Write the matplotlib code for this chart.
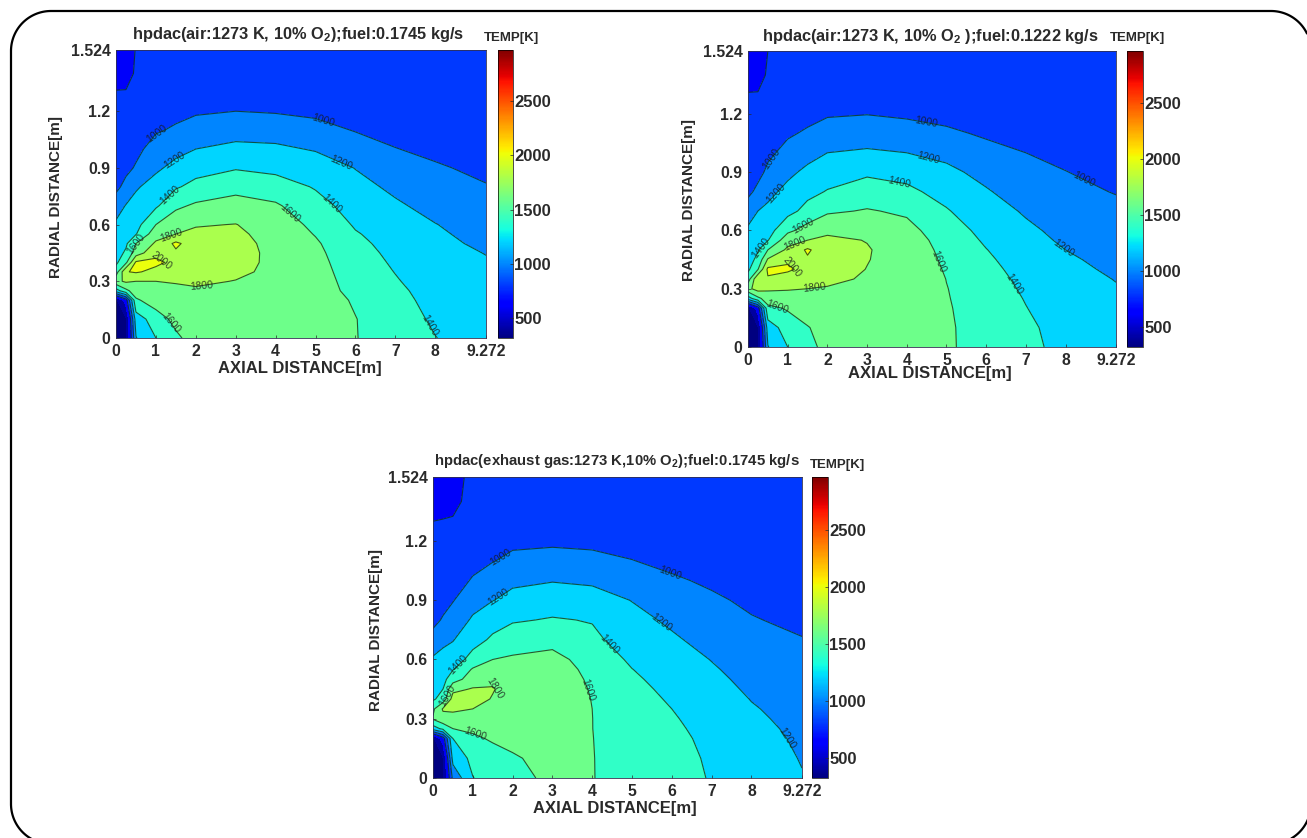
import numpy as np
import matplotlib
matplotlib.use("Agg")
import matplotlib.pyplot as plt
from matplotlib.lines import Line2D
from matplotlib.cm import ScalarMappable
from matplotlib.colors import Normalize
from matplotlib.transforms import IdentityTransform

plt.rcParams['font.family'] = ['Liberation Sans', 'DejaVu Sans']
plt.rcParams['mathtext.fontset'] = 'custom'
plt.rcParams['mathtext.rm'] = 'Liberation Sans:bold'
plt.rcParams['mathtext.default'] = 'rm'

W, H = 1307, 838

axial = [0, .25, .5, 1, 1.5, 2, 3, 4, 5, 6, 7, 8, 9.272]
radial = [0, .1, .2, .25, .3, .35, .4, .45, .5, .55, .6, .7, .8, .9, 1, 1.1, 1.2, 1.3, 1.4, 1.524]
levels = [200, 400, 600, 800, 1000, 1200, 1400, 1600, 1800, 2000, 2200, 2400, 2600, 2800, 3000]
line_levels = [800, 1000, 1200, 1400, 1600, 1800, 2000]
tmin, tmax = 320, 2970

xtick_vals = [0, 1, 2, 3, 4, 5, 6, 7, 8, 9.272]
xtick_text = ['0', '1', '2', '3', '4', '5', '6', '7', '8', '9.272']
ytick_vals = [0, .3, .6, .9, 1.2, 1.524]
ytick_text = ['0', '0.3', '0.6', '0.9', '1.2', '1.524']
cbar_ticks = [500, 1000, 1500, 2000, 2500]

# each row below is one axial station, values run along radial
temp_a = [
 [330,340,350,1300,1750,1500,1360,1320,1280,1260,1230,1110,950,900,860,830,810,805,760,740],
 [350,380,700,1550,1830,1990,1560,1430,1370,1330,1280,1210,1060,950,900,860,830,805,770,750],
 [1190,1300,1570,1700,1800,2020,2030,1700,1600,1390,1330,1260,1180,1020,950,900,860,830,810,805],
 [1400,1500,1700,1730,1800,1950,2040,1950,1830,1720,1600,1370,1270,1170,1080,980,915,865,830,815],
 [1560,1660,1720,1770,1810,1880,1950,1970,2040,1800,1730,1560,1380,1250,1150,1025,950,890,860,845],
 [1690,1700,1730,1780,1825,1860,1890,1920,1890,1840,1785,1630,1455,1330,1200,1090,975,905,875,860],
 [1660,1700,1750,1780,1795,1830,1850,1860,1855,1835,1805,1670,1545,1385,1245,1130,1000,920,885,870],
 [1700,1725,1745,1755,1760,1765,1765,1760,1750,1730,1705,1625,1490,1350,1235,1115,985,915,885,870],
 [1700,1700,1695,1690,1685,1675,1660,1645,1625,1590,1555,1470,1385,1300,1185,1065,960,905,880,865],
 [1605,1605,1580,1545,1525,1505,1490,1470,1445,1415,1380,1320,1255,1195,1095,990,930,895,875,860],
 [1530,1495,1460,1440,1415,1395,1375,1355,1335,1315,1290,1225,1165,1090,1005,945,905,880,865,855],
 [1405,1370,1340,1325,1310,1295,1280,1260,1240,1225,1205,1145,1085,1020,960,915,885,870,860,855],
 [1290,1280,1265,1255,1245,1230,1215,1195,1170,1145,1120,1060,1010,960,920,890,870,860,855,850],
]
temp_b = [
 [330,340,350,1300,1750,1500,1360,1320,1280,1260,1230,1110,950,900,860,830,810,805,760,740],
 [350,380,700,1550,1880,1990,1590,1450,1385,1330,1280,1200,1050,940,890,855,830,805,770,750],
 [1190,1300,1550,1700,1830,1980,2040,1820,1600,1390,1320,1240,1150,1040,960,905,865,835,810,800],
 [1400,1490,1620,1720,1815,1920,2030,1970,1840,1720,1555,1340,1250,1160,1060,975,915,865,830,810],
 [1560,1590,1690,1750,1800,1870,1940,1975,2030,1800,1680,1460,1350,1240,1140,1025,945,890,860,845],
 [1640,1670,1720,1760,1790,1830,1860,1880,1870,1830,1770,1570,1410,1320,1200,1090,980,905,870,855],
 [1630,1670,1720,1745,1770,1785,1797,1805,1810,1795,1760,1615,1490,1370,1225,1110,995,915,880,865],
 [1690,1710,1730,1745,1750,1755,1755,1745,1730,1700,1660,1570,1440,1340,1200,1085,970,900,870,860],
 [1620,1620,1615,1610,1605,1597,1580,1560,1540,1520,1490,1415,1335,1240,1155,1040,930,885,865,855],
 [1540,1535,1520,1510,1500,1480,1455,1430,1405,1375,1345,1280,1215,1150,1070,970,910,880,860,850],
 [1460,1440,1405,1390,1370,1350,1330,1310,1285,1255,1235,1180,1120,1060,1000,935,890,870,855,850],
 [1330,1320,1300,1285,1270,1255,1240,1220,1200,1175,1150,1105,1055,1005,945,900,870,855,850,845],
 [1265,1255,1235,1225,1210,1195,1175,1160,1140,1115,1095,1050,990,930,890,865,855,850,845,840],
]
temp_c = [
 [330,340,350,1300,1620,1560,1370,1330,1290,1260,1225,1080,940,880,850,825,810,800,760,740],
 [350,380,700,1450,1740,1820,1480,1400,1340,1310,1270,1150,1020,930,880,850,825,805,760,745],
 [1050,1270,1400,1600,1720,1840,1880,1750,1510,1390,1300,1190,1090,990,930,880,850,810,770,760],
 [1395,1450,1570,1630,1710,1800,1860,1815,1700,1620,1470,1330,1225,1130,1015,950,900,865,840,830],
 [1470,1530,1620,1680,1720,1760,1790,1810,1770,1690,1600,1430,1330,1195,1120,990,925,880,855,840],
 [1530,1580,1650,1680,1700,1720,1735,1730,1710,1670,1625,1510,1380,1255,1165,1050,955,895,865,850],
 [1650,1660,1680,1690,1700,1710,1720,1720,1710,1690,1660,1540,1415,1310,1190,1075,965,900,870,855],
 [1603,1603,1602,1601,1601,1600,1595,1585,1570,1550,1520,1440,1390,1280,1170,1060,950,895,870,855],
 [1560,1555,1545,1535,1525,1510,1485,1460,1430,1403,1370,1310,1255,1195,1105,1005,925,880,860,850],
 [1490,1480,1460,1440,1420,1400,1375,1350,1330,1305,1280,1225,1170,1110,1030,945,885,860,850,845],
 [1385,1370,1345,1330,1315,1300,1280,1260,1240,1218,1195,1140,1090,1035,965,900,865,850,845,840],
 [1330,1300,1270,1250,1230,1213,1195,1175,1155,1135,1115,1075,1015,960,910,870,850,845,840,835],
 [1210,1190,1170,1160,1150,1140,1125,1110,1095,1075,1060,1010,950,900,865,850,845,840,840,835],
]

title_a = r'hpdac(air:1273 K, 10% O$_2$);fuel:0.1745 kg/s'
title_b = r'hpdac(air:1273 K, 10% O$_2$ );fuel:0.1222 kg/s'
title_c = r'hpdac(exhaust gas:1273 K,10% O$_2$);fuel:0.1745 kg/s'

labels_a = [(5.2,1.155),(1.06,1.07),(1.52,.925),(5.65,.93),(1.48,.73),(5.5,.73),(4.36,.66),(1.44,.09),(7.9,.07),(1.4,.53),(2.15,.27),(.48,.5),(1.15,.42)]
labels_b = [(4.5,1.17),(.65,.96),(8.5,.88),(4.55,.98),(.77,.78),(8.03,.53),(3.8,.845),(6.85,.34),(.3,.515),(1.44,.61),(4.7,.43),(.73,.205),(1.2,.52),(1.7,.28),(1.1,.41)]
labels_c = [(1.69,1.12),(5.96,1.04),(1.73,.89),(5.7,.78),(8.9,.2),(.65,.57),(4.45,.68),(.35,.42),(3.75,.44),(1.06,.225),(1.57,.46)]

fig = plt.figure(figsize=(W/100, H/100), dpi=100, facecolor='white')

def rect(l, t, r, b):
    return [l/W, 1-b/H, (r-l)/W, (b-t)/H]

jet = plt.get_cmap('jet')
norm = Normalize(tmin, tmax)
fill_colors = [jet(norm(v)) for v in levels[:-1]]
INK = '#2a2a2a'

def panel(temp, title, labs, box, cbox, title_xy, temp_xy, xl_xy, yl_xy, tsize):
    ax = fig.add_axes(rect(*box))
    Z = np.array(temp).T
    ax.contourf(axial, radial, Z, levels=levels, colors=fill_colors)
    cs = ax.contour(axial, radial, Z, levels=line_levels, colors='#10301c', linewidths=0.8, alpha=0.8)
    ax.clabel(cs, fmt='%d', fontsize=7.5, inline=False, manual=labs, colors='#151a1a')
    ax.set_xlim(0, 9.272)
    ax.set_ylim(0, 1.524)
    ax.set_xticks(xtick_vals, xtick_text)
    ax.set_yticks(ytick_vals, ytick_text)
    ax.tick_params(direction='in', length=2, width=0.5, labelsize=11.3, pad=4, colors=INK)
    for t in ax.get_xticklabels() + ax.get_yticklabels():
        t.set_fontweight('bold')
    for s in ax.spines.values():
        s.set_linewidth(0.6)
        s.set_color('#303050')
    cax = fig.add_axes(rect(*cbox))
    cb = fig.colorbar(ScalarMappable(norm, jet), cax=cax)
    cb.set_ticks(cbar_ticks)
    cb.ax.tick_params(direction='in', length=2, width=0.5, labelsize=12, pad=1, colors=INK)
    for t in cb.ax.get_yticklabels():
        t.set_fontweight('bold')
    cb.outline.set_linewidth(0.5)
    fig.text(title_xy[0]/W, 1-title_xy[1]/H, title, ha='center', va='center', fontsize=tsize, fontweight='bold', color=INK)
    fig.text(temp_xy[0]/W, 1-temp_xy[1]/H, 'TEMP[K]', ha='center', va='center', fontsize=9.5, fontweight='bold', color=INK)
    fig.text(xl_xy[0]/W, 1-xl_xy[1]/H, 'AXIAL DISTANCE[m]', ha='center', va='center', fontsize=12, fontweight='bold', color=INK)
    fig.text(yl_xy[0]/W, 1-yl_xy[1]/H, 'RADIAL DISTANCE[m]', ha='center', va='center', rotation=90, fontsize=11, fontweight='bold', color=INK)

panel(temp_a, title_a, labels_a, (116,50,486,338), (498,50,513,338), (298,35), (512,38), (300,368), (56,197), 11.8)
panel(temp_b, title_b, labels_b, (748,51,1116,347), (1127,51,1143,347), (930,37), (1138,38), (930,373), (689,200), 11.8)
panel(temp_c, title_c, labels_c, (433,477,802,778), (812,477,828,778), (617,461), (837,465), (615,808), (376,630), 10.7)

# rounded page frame, drawn in pixels as plain polylines that stay inside the image
L, T, R, B, RAD = 11, 11, 1311, 844, 40

def arc(cx, cy, a0, a1):
    a = np.radians(np.linspace(a0, a1, 40))
    return cx + RAD*np.cos(a), H - (cy - RAD*np.sin(a))

xs_tr, ys_tr = arc(R-RAD, T+RAD, 25, 90)
xs_tl, ys_tl = arc(L+RAD, T+RAD, 90, 180)
xs_bl, ys_bl = arc(L+RAD, B-RAD, 180, 262)
xs_br, ys_br = arc(R-RAD, B-RAD, -60, -22)
main_x = np.concatenate([xs_tr, xs_tl, xs_bl])
main_y = np.concatenate([ys_tr, ys_tl, ys_bl])
for px, py in ((main_x, main_y), (xs_br, ys_br)):
    fig.add_artist(Line2D(px, py, transform=IdentityTransform(), color='black', linewidth=1.6,
                          solid_capstyle='butt', clip_on=False))
fig.savefig('out.png', dpi=100)
